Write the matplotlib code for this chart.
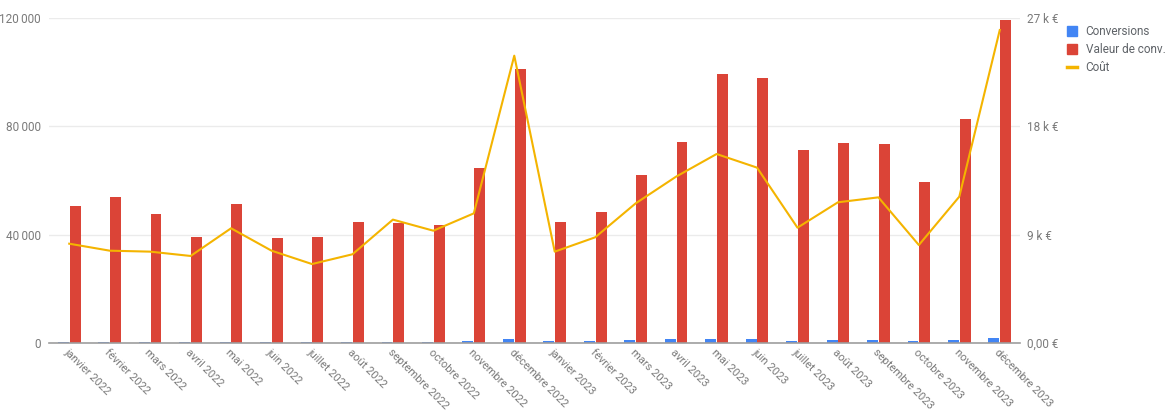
import matplotlib
matplotlib.use("Agg")
import matplotlib.pyplot as plt
from matplotlib.patches import Patch
from matplotlib.lines import Line2D
import numpy as np

plt.rcParams['font.family'] = ['Roboto', 'DejaVu Sans']

months = ["janvier 2022", "février 2022", "mars 2022", "avril 2022", "mai 2022", "juin 2022",
          "juillet 2022", "août 2022", "septembre 2022", "octobre 2022", "novembre 2022", "décembre 2022",
          "janvier 2023", "février 2023", "mars 2023", "avril 2023", "mai 2023", "juin 2023",
          "juillet 2023", "août 2023", "septembre 2023", "octobre 2023", "novembre 2023", "décembre 2023"]

conversions = [500, 500, 500, 500, 500, 500, 500, 500, 500, 500, 850, 1600,
               600, 600, 1000, 1350, 1480, 1480, 860, 1230, 1230, 860, 1230, 1850]

valeur_conv = [50500, 54000, 47700, 39300, 51500, 38700, 39000, 44700, 44400, 43600, 64700, 101200,
               44800, 48400, 62000, 74300, 99300, 98000, 71400, 73700, 73400, 59500, 82600, 119300]

cout = [8250, 7670, 7590, 7230, 9530, 7670, 6560, 7370, 10250, 9330, 10770, 23870,
        7590, 8780, 11600, 13820, 15700, 14570, 9580, 11690, 12100, 8140, 12160, 26000]

left_ticks = [0, 40000, 80000, 120000]
left_labels = ["0", "40\u202f000", "80\u202f000", "120\u202f000"]
right_ticks = [0, 9000, 18000, 27000]
right_labels = ["0,00 €", "9 k €", "18 k €", "27 k €"]

BLUE = "#4285f4"
RED = "#db4437"
YELLOW = "#f4b400"
GRAY = "#7a7a7a"

fig = plt.figure(figsize=(11.7, 4.16), dpi=100)
ax = fig.add_axes([49/1170, 1-343/416, (1020-49)/1170, (343-18)/416])

x = np.arange(len(months))
w = 0.27
ax.bar(x - 0.145, conversions, width=w, color=BLUE, zorder=3)
ax.bar(x + 0.145, valeur_conv, width=w, color=RED, zorder=3)

ax.set_xlim(-0.5, len(months) - 0.5)
ax.set_ylim(0, 120000)
ax.set_yticks(left_ticks)
ax.set_yticklabels(left_labels)
ax.grid(axis='y', color='#ebebeb', linewidth=1, zorder=0)
ax.set_axisbelow(True)
for s in ['top', 'right', 'left']:
    ax.spines[s].set_visible(False)
ax.spines['bottom'].set_color('#9e9e9e')
ax.spines['bottom'].set_linewidth(1.2)
ax.spines['bottom'].set_zorder(4)
ax.tick_params(axis='y', length=0, pad=6, labelsize=8.5, labelcolor=GRAY)
ax.set_xticks(x)
ax.set_xticklabels(months, rotation=-45, ha='left', va='top', rotation_mode='anchor',
                   fontsize=8, color=GRAY)
ax.tick_params(axis='x', length=0, pad=3)

ax2 = ax.twinx()
ax2.plot(x, cout, color=YELLOW, linewidth=1.5, zorder=5)
ax2.set_ylim(0, 27000)
ax2.set_yticks(right_ticks)
ax2.set_yticklabels(right_labels)
ax2.tick_params(axis='y', length=0, pad=5, labelsize=8.5, labelcolor=GRAY)
for s in ['top', 'right', 'left', 'bottom']:
    ax2.spines[s].set_visible(False)

handles = [Patch(color=BLUE), Patch(color=RED), Line2D([0], [0], color=YELLOW, linewidth=2.5)]
labels = ["Conversions", "Valeur de conv.", "Coût"]
leg = fig.legend(handles, labels, loc='upper left', bbox_to_anchor=(1062/1170, 1-20/416),
                 frameon=False, fontsize=8.5, handlelength=0.9, handleheight=0.9,
                 handletextpad=0.7, labelspacing=0.45, borderaxespad=0)
for t in leg.get_texts():
    t.set_color('#5f6368')

fig.savefig("out.png", dpi=100)
